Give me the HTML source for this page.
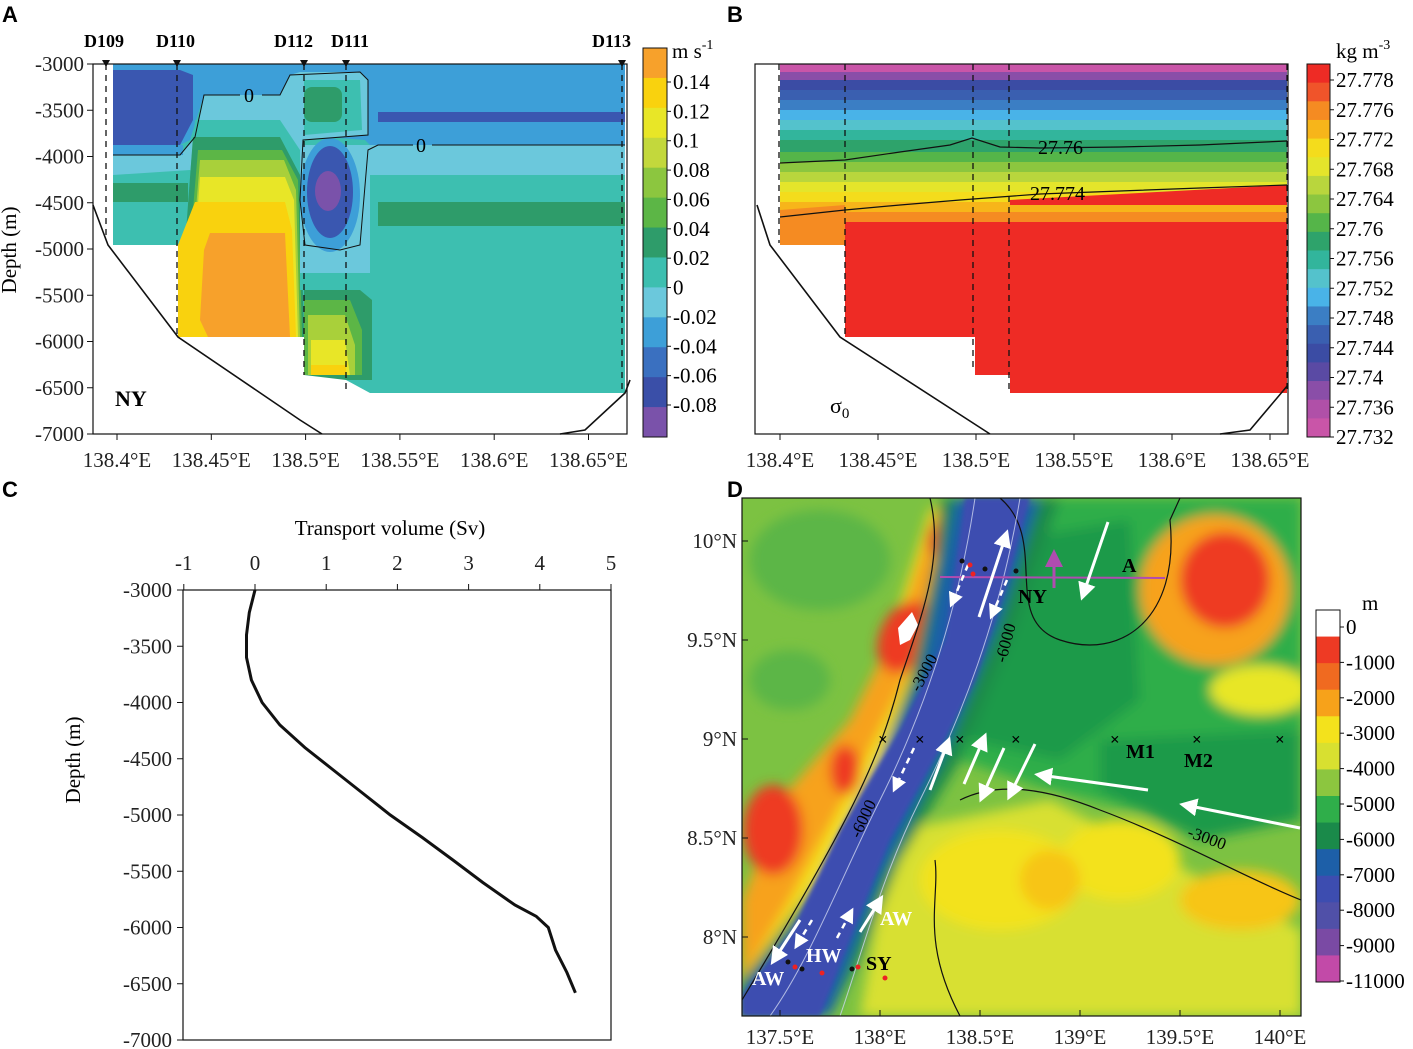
<!DOCTYPE html>
<html><head><meta charset="utf-8"><style>
body{margin:0;background:#fff;}
svg{display:block;font-family:"Liberation Serif",serif;}
svg text{font-family:"Liberation Serif",serif;}
.ax{font-size:21px;fill:#222}
.pl{font-family:"Liberation Sans",sans-serif !important;font-weight:bold;font-size:22px}
</style></head><body>
<svg id="fig" width="1413" height="1049" viewBox="0 0 1413 1049" xmlns="http://www.w3.org/2000/svg">
<defs>
<filter id="bl" x="-20%" y="-20%" width="140%" height="140%"><feGaussianBlur stdDeviation="6"/></filter>
<filter id="bl2"><feGaussianBlur stdDeviation="2"/></filter>
<clipPath id="clipD"><rect x="742" y="498" width="559" height="518"/></clipPath>
<marker id="ah" markerWidth="6" markerHeight="6" refX="4" refY="3" orient="auto"><path d="M0,0 L6,3 L0,6 Z" fill="#fff"/></marker>
<marker id="ahm" markerWidth="6" markerHeight="6" refX="4" refY="3" orient="auto"><path d="M0,0 L6,3 L0,6 Z" fill="#b04cb0"/></marker>
</defs>

<text class="pl" x="2" y="22">A</text>
<text class="pl" x="727" y="22">B</text>
<text class="pl" x="2" y="497">C</text>
<text class="pl" x="727" y="497">D</text>

<!-- PANEL A -->
<g id="panelA">
<g>
<polygon points="113,64 625,64 625,393 370,393 346,380 346,375 304,375 304,337 178,337 178,245 113,245" fill="#3dbfb0"/>
<!-- top blue -->
<polygon points="113,64 625,64 625,145 370,145 365,140 300,135 290,120 280,95 204,95 190,140 180,145 113,145" fill="#3d9fd8"/>
<polygon points="113,155 180,155 195,137 204,95 280,95 290,75 300,72 360,72 368,80 368,135 303,140 300,200 210,200 190,170 113,175" fill="#6bc8dc"/>
<rect x="113" y="145" width="70" height="10" fill="#3d9fd8"/>
<polygon points="113,70 180,70 193,75 193,120 180,145 113,145" fill="#3a57b0"/>
<polygon points="195,120 280,120 300,150 300,240 190,240 190,175" fill="#3dbfb0"/>
<polygon points="304,80 360,80 362,130 304,135" fill="#3dbfb0"/>
<rect x="304" y="87" width="38" height="35" rx="8" fill="#2e9c6a"/>
<rect x="113" y="183" width="75" height="19" fill="#2e9c6a"/>
<polygon points="193,137 280,137 300,175 304,337 190,337 185,245" fill="#2e9c6a"/>
<polygon points="198,150 282,150 298,180 302,337 192,337 190,245" fill="#5cb646"/>
<polygon points="200,160 284,160 296,190 300,337 194,337 193,245" fill="#a9d03a"/>
<polygon points="200,177 285,177 294,200 298,337 178,337 178,245 195,245" fill="#e8e627"/>
<polygon points="195,202 285,202 292,230 296,337 178,337 178,245" fill="#f9d20e"/>
<polygon points="210,233 285,233 290,337 208,337 200,320 204,250" fill="#f7a12b"/>
<!-- center blobs -->
<polygon points="300,145 370,145 370,273 300,273" fill="#6bc8dc"/>
<ellipse cx="330" cy="195" rx="30" ry="57" fill="#3d9fd8"/>
<ellipse cx="330" cy="192" rx="23" ry="46" fill="#3a57b0"/>
<ellipse cx="328" cy="191" rx="13" ry="20" fill="#7a52aa"/>
<rect x="300" y="273" width="70" height="17" fill="#3dbfb0"/>
<polygon points="304,290 360,290 372,300 372,380 346,380 304,375" fill="#2e9c6a"/>
<polygon points="304,300 350,300 362,330 362,375 304,375" fill="#5cb646"/>
<polygon points="308,315 345,315 355,345 355,375 308,375" fill="#a9d03a"/>
<polygon points="311,340 345,340 350,375 311,375" fill="#e8e627"/>
<rect x="311" y="365" width="35" height="10" fill="#f9d20e"/>
<!-- right -->
<rect x="378" y="112" width="247" height="10" fill="#3a57b0"/>
<rect x="370" y="145" width="255" height="30" fill="#6bc8dc"/>
<rect x="378" y="202" width="247" height="24" fill="#2e9c6a"/>
</g>
<g fill="none" stroke="#111" stroke-width="1.6">
<polyline points="93,205 108,245 178,337 300,420 322,434"/>
<polyline points="560,434 585,430 625,393 630,380"/>
</g>
<path d="M113,155 L180,155 195,137 204,95 240,95 M262,95 L280,95 290,75 360,72 368,80 368,135 303,140 300,200 305,245 340,250 360,245 368,150 378,145 413,145 M432,145 L625,145" fill="none" stroke="#111" stroke-width="1"/>
<g stroke="#111" stroke-width="1.3" stroke-dasharray="6,5">
<line x1="106" y1="64" x2="106" y2="240"/><line x1="177" y1="64" x2="177" y2="335"/>
<line x1="304" y1="64" x2="304" y2="375"/><line x1="346" y1="64" x2="346" y2="392"/>
<line x1="622" y1="64" x2="622" y2="390"/>
</g>
<g font-weight="bold" font-size="18">
<polygon points="102,60 110,60 106,67" fill="#111"/><polygon points="173,60 181,60 177,67" fill="#111"/>
<polygon points="300,60 308,60 304,67" fill="#111"/><polygon points="342,60 350,60 346,67" fill="#111"/>
<polygon points="618,60 626,60 622,67" fill="#111"/>
<text x="84" y="47">D109</text><text x="156" y="47">D110</text><text x="274" y="47">D112</text><text x="331" y="47">D111</text><text x="592" y="47">D113</text>
</g>
<text x="244" y="102" font-size="20">0</text>
<text x="416" y="152" font-size="20">0</text>
<text x="115" y="406" font-size="22" font-weight="bold">NY</text>
<rect x="93" y="64" width="534" height="370" fill="none" stroke="#111" stroke-width="1.2"/>
<g id="axA" class="ax"></g>
<text transform="translate(16,250) rotate(-90)" text-anchor="middle" font-size="21">Depth (m)</text>
<g id="cbA"></g>
<text x="672" y="58" font-size="21">m s<tspan dy="-9" font-size="14">-1</tspan></text>
</g>

<!-- PANEL B -->
<g id="panelB">
<g id="bBands"></g>
<g fill="#fff">
<polygon points="755,245 845,245 845,337 975,337 975,375 1010,375 1010,393 1288,393 1288,434 755,434"/>
</g>
<g fill="none" stroke="#111" stroke-width="1.2">
<polyline points="780,163 845,160 900,152 950,145 972,138 1000,147 1040,148 1120,147 1200,145 1287,141"/>
<polyline points="780,217 845,210 900,205 960,200 1000,197 1040,194 1120,191 1200,188 1287,185"/>
</g>
<text x="1038" y="154" font-size="20">27.76</text>
<text x="1030" y="200" font-size="20">27.774</text>
<g fill="none" stroke="#111" stroke-width="1.6">
<polyline points="757,205 770,245 840,337 990,434"/><polyline points="1220,434 1250,430 1288,385"/>
</g>
<g stroke="#111" stroke-width="1.3" stroke-dasharray="6,5">
<line x1="779" y1="64" x2="779" y2="243"/><line x1="845" y1="64" x2="845" y2="335"/>
<line x1="973" y1="64" x2="973" y2="370"/><line x1="1009" y1="64" x2="1009" y2="392"/>
<line x1="1287" y1="64" x2="1287" y2="392"/>
</g>
<text x="830" y="413" font-size="22">σ<tspan font-size="15" dy="5">0</tspan></text>
<rect x="755" y="64" width="533" height="370" fill="none" stroke="#111" stroke-width="1.2"/>
<g id="axB" class="ax"></g>
<g id="cbB"></g>
<text x="1336" y="58" font-size="21">kg m<tspan dy="-9" font-size="14">-3</tspan></text>
</g>

<!-- PANEL C -->
<g id="panelC">
<rect x="183" y="590" width="428" height="450" fill="none" stroke="#111" stroke-width="1.2"/>
<g id="axC" class="ax"></g>
<text x="390" y="535" text-anchor="middle" font-size="21">Transport volume (Sv)</text>
<text transform="translate(80,760) rotate(-90)" text-anchor="middle" font-size="21">Depth (m)</text>
<path id="profile" fill="none" stroke="#111" stroke-width="3"/>
</g>

<!-- PANEL D -->
<g id="panelD">
<g clip-path="url(#clipD)">
<rect x="742" y="498" width="559" height="518" fill="#7cc242"/>
<g filter="url(#bl)">
<ellipse cx="820" cy="560" rx="70" ry="50" fill="#5cb646"/>
<ellipse cx="790" cy="680" rx="40" ry="30" fill="#5cb646"/>
<polygon points="1000,498 1301,498 1301,800 1180,820 1050,790 960,760 930,700" fill="#2fae4a"/>
<polygon points="1010,540 1130,520 1140,700 1060,760 970,740" fill="#1f9a48"/>
<polygon points="1100,740 1301,730 1301,820 1200,840 1100,790" fill="#1f9a48"/>
<polygon points="900,830 1050,800 1301,930 1301,1016 860,1016 880,900" fill="#d8e030"/>
<ellipse cx="1000" cy="880" rx="80" ry="50" fill="#f3e21c"/>
<ellipse cx="1120" cy="860" rx="60" ry="40" fill="#f3e21c"/>
<ellipse cx="1240" cy="900" rx="60" ry="30" fill="#f7c514"/>
<ellipse cx="1050" cy="880" rx="30" ry="30" fill="#f7c514"/>
<ellipse cx="1215" cy="590" rx="75" ry="75" fill="#f7a21a"/>
<ellipse cx="1260" cy="690" rx="50" ry="25" fill="#e8e627"/>
<polygon points="742,1016 742,940 860,730 930,510 960,498 945,560 920,700 870,830 780,1000" fill="#f3e21c"/>
<polygon points="742,980 742,900 780,800 850,720 900,620 935,510 950,510 920,650 860,770 790,900" fill="#f7a21a"/>
<ellipse cx="773" cy="830" rx="30" ry="45" fill="#ee3a24"/>
<ellipse cx="845" cy="770" rx="15" ry="25" fill="#ee3a24"/>
<ellipse cx="905" cy="637" rx="25" ry="38" fill="#ee3a24" transform="rotate(25 905 637)"/>
<ellipse cx="935" cy="540" rx="8" ry="15" fill="#ee3a24"/>
<ellipse cx="1225" cy="580" rx="45" ry="48" fill="#ee3a24"/>
<polygon points="940,498 1060,498 1010,640 960,760 900,860 860,960 830,1016 742,1016 742,980 820,880 880,760 910,680 935,560" fill="#1a8a4a"/>
<polygon points="955,498 1040,498 1000,620 950,740 880,880 830,1016 742,1016 742,990 800,920 860,800 920,680" fill="#1d5fa8"/>
</g>
<polygon points="965,498 1030,498 1005,590 975,680 945,740 890,840 850,940 820,1016 742,1016 742,995 790,935 840,830 900,730 945,640" fill="#3d4db0" filter="url(#bl2)"/>
<path d="M898,628 L912,612 918,625 910,640 900,645 Z" fill="#fff"/>
<g fill="none" stroke="#111" stroke-width="1.2">
<path d="M930,498 C945,560 920,620 900,680 C880,760 850,820 742,1000"/>
<path d="M1000,498 C1050,540 1000,620 1060,640 C1120,660 1180,620 1170,520 L1180,498"/>
<path d="M960,800 C1000,780 1050,790 1100,810 C1180,840 1250,880 1301,900"/>
<path d="M935,860 C940,900 920,940 960,1016"/>
</g>
<g fill="none" stroke="#cfd6f0" stroke-width="1" opacity="0.8">
<path d="M975,498 C960,600 930,700 880,800 C840,880 810,960 770,1016"/>
<path d="M1020,498 C1000,620 960,720 920,800 C880,880 860,960 840,1016"/>
</g>
</g>
<text x="896" y="690" font-size="17" transform="rotate(-62 910 672)">-3000</text>
<text x="980" y="660" font-size="17" transform="rotate(-75 995 645)">-6000</text>
<text x="838" y="835" font-size="17" transform="rotate(-65 852 820)">-6000</text>
<text x="1185" y="845" font-size="17" transform="rotate(20 1210 845)">-3000</text>
<line x1="940" y1="577" x2="1165" y2="578" stroke="#b04cb0" stroke-width="2"/>
<line x1="1054" y1="588" x2="1054" y2="555" stroke="#b04cb0" stroke-width="3" marker-end="url(#ahm)"/>
<g stroke="#fff" stroke-width="3" marker-end="url(#ah)">
<line x1="1108" y1="522" x2="1083" y2="595"/>
<line x1="979" y1="617" x2="1006" y2="535"/>
<line x1="1035" y1="744" x2="1010" y2="795"/>
<line x1="1004" y1="748" x2="982" y2="797"/>
<line x1="964" y1="784" x2="984" y2="738"/>
<line x1="930" y1="790" x2="948" y2="742"/>
<line x1="1148" y1="790" x2="1040" y2="775"/>
<line x1="1300" y1="828" x2="1185" y2="805"/>
<line x1="800" y1="920" x2="774" y2="960"/>
<line x1="860" y1="932" x2="880" y2="900"/>
</g>
<g stroke="#fff" stroke-width="2.5" stroke-dasharray="6,5" marker-end="url(#ah)">
<line x1="968" y1="565" x2="952" y2="603"/>
<line x1="1007" y1="580" x2="992" y2="615"/>
<line x1="914" y1="748" x2="895" y2="788"/>
<line x1="837" y1="938" x2="851" y2="912"/>
<line x1="812" y1="920" x2="797" y2="945"/>
</g>
<g>
<circle cx="962" cy="561" r="2.5" fill="#111"/><circle cx="970" cy="565" r="2.5" fill="#e22"/><circle cx="973" cy="574" r="2.5" fill="#e22"/><circle cx="985" cy="569" r="2.5" fill="#111"/><circle cx="1016" cy="571" r="2.5" fill="#111"/>
<circle cx="788" cy="962" r="2.5" fill="#111"/><circle cx="795" cy="967" r="2.5" fill="#e22"/><circle cx="802" cy="969" r="2.5" fill="#111"/><circle cx="822" cy="973" r="2.5" fill="#e22"/><circle cx="852" cy="969" r="2.5" fill="#111"/><circle cx="858" cy="967" r="2.5" fill="#e22"/><circle cx="885" cy="978" r="2.5" fill="#e22"/>
</g>
<g font-size="17" font-weight="bold"><text x="878" y="745">×</text><text x="915" y="745">×</text><text x="955" y="745">×</text><text x="1011" y="745">×</text><text x="1110" y="745">×</text><text x="1192" y="745">×</text><text x="1275" y="745">×</text></g>
<g font-weight="bold" font-size="20">
<text x="1018" y="603">NY</text><text x="1122" y="572">A</text><text x="1126" y="758">M1</text><text x="1184" y="767">M2</text>
<text x="866" y="970">SY</text>
<text x="880" y="925" fill="#fff">AW</text><text x="806" y="962" fill="#fff">HW</text><text x="752" y="985" fill="#fff">AW</text>
</g>
<rect x="742" y="498" width="559" height="518" fill="none" stroke="#111" stroke-width="1.2"/>
<g id="axD" class="ax"></g>
<g id="cbD"></g>
<text x="1362" y="610" font-size="21">m</text>
</g>
</svg>
<script>
var depthC = [-3000,-3200,-3400,-3600,-3800,-4000,-4200,-4400,-4600,-4800,-5000,-5200,-5400,-5600,-5800,-5900,-6000,-6200,-6400,-6580];
var transportC = [0.0,-0.08,-0.12,-0.12,-0.05,0.1,0.35,0.7,1.1,1.5,1.9,2.35,2.78,3.2,3.65,3.95,4.12,4.22,4.38,4.5];
var xTicksC = [-1,0,1,2,3,4,5];
var depthTicks = [-3000,-3500,-4000,-4500,-5000,-5500,-6000,-6500,-7000];
var lonTicks = [138.4,138.45,138.5,138.55,138.6,138.65];
var lonLabels = ["138.4°E","138.45°E","138.5°E","138.55°E","138.6°E","138.65°E"];
var cbALabels = ["0.14","0.12","0.1","0.08","0.06","0.04","0.02","0","-0.02","-0.04","-0.06","-0.08"];
var cbAColors = ["#f7a12b","#f9d20e","#e8e627","#c3d83c","#8cc63f","#5cb646","#2e9c6a","#3dbfb0","#6bc8dc","#3d9fd8","#3a70c0","#3a4fa8","#7a52aa"];
var cbBLabels = ["27.778","27.776","27.772","27.768","27.764","27.76","27.756","27.752","27.748","27.744","27.74","27.736","27.732"];
var cbBColors = ["#ee2b25","#f0542a","#f58b22","#f7b51a","#f4dc1c","#e4e52b","#b9d63d","#8cc63f","#55b549","#2ea36b","#32b59c","#54c2cc","#49b3e8","#3b7ec4","#3a5fb0","#3b4ca4","#5a4aa4","#8a4ea8","#b050a8","#c955a8"];
var cbDLabels = ["0","-1000","-2000","-3000","-4000","-5000","-6000","-7000","-8000","-9000","-11000"];
var cbDColors = ["#ffffff","#ee3a24","#f06a20","#f7a21a","#f3e21c","#d8e030","#8cc63f","#2fae4a","#1a8a4a","#1d5fa8","#3d4db0","#5050a8","#7a4aa4","#c24aa8"];
var latLabels = ["10°N","9.5°N","9°N","8.5°N","8°N"];
var latVals = [10,9.5,9,8.5,8];
var lonDLabels = ["137.5°E","138°E","138.5°E","139°E","139.5°E","140°E"];
var lonDVals = [137.5,138,138.5,139,139.5,140];

var NS="http://www.w3.org/2000/svg";
function mk(tag,attrs,parent,txt){var e=document.createElementNS(NS,tag);for(var k in attrs)e.setAttribute(k,attrs[k]);if(txt!==undefined)e.textContent=txt;parent.appendChild(e);return e;}

function yDepth(top,bot){return function(d){return top+(-3000-d)/4000*(bot-top);};}
function sectionAxes(g,x0,step,left,yl){
  var y=yDepth(64,434),x=function(v){return x0+(v-138.4)/0.05*step;};
  if(yl){depthTicks.forEach(function(d){
    mk('line',{x1:left-6,x2:left,y1:y(d),y2:y(d),stroke:'#111'},g);
    var t=mk('text',{x:left-9,y:y(d)+7,'text-anchor':'end'},g,String(d));
    
    
  });}
  lonTicks.forEach(function(v,i){
    mk('line',{x1:x(v),x2:x(v),y1:434,y2:440,stroke:'#111'},g);
    var t=mk('text',{x:x(v),y:467,'text-anchor':'middle'},g,lonLabels[i]);
    
    
  });
}
sectionAxes(document.getElementById('axA'),117,94.3,93,true);
sectionAxes(document.getElementById('axB'),780,98,755,false);

function colorbar(g,x,top,bot,w,colors,labels,ly0,ly1,fs){
  var h=(bot-top)/colors.length;
  colors.forEach(function(c,i){
    var r=mk('rect',{x:x,y:top+i*h,width:w,height:h+0.5,fill:c},g);
    
    
  });
  mk('rect',{x:x,y:top,width:w,height:bot-top,fill:'none',stroke:'#111','stroke-width':1},g);
  labels.forEach(function(s,i){
    var yy=ly0+i*(ly1-ly0)/(labels.length-1);
    mk('line',{x1:x+w,x2:x+w+4,y1:yy,y2:yy,stroke:'#111'},g);
    var t=mk('text',{x:x+w+6,y:yy+7,'font-size':fs},g,s);
    
    
  });
}
colorbar(document.getElementById('cbA'),643,48,437,24,cbAColors,cbALabels,82,405,21);
colorbar(document.getElementById('cbB'),1307,64,437,23,cbBColors,cbBLabels,80,437,21);
colorbar(document.getElementById('cbD'),1316,610,982,24,cbDColors,cbDLabels,627,981,21);

(function(){
  var g=document.getElementById('bBands');
  var bands=[[64,72,"#c955a8"],[72,80,"#8a4ea8"],[80,90,"#3b4ca4"],[90,100,"#3a5fb0"],[100,110,"#3b7ec4"],[110,120,"#49b3e8"],[120,130,"#54c2cc"],[130,140,"#32b59c"],[140,152,"#2ea36b"],[152,162,"#55b549"],[162,172,"#8cc63f"],[172,182,"#b9d63d"],[182,192,"#e4e52b"],[192,202,"#f4dc1c"],[202,212,"#f7b51a"],[212,222,"#f58b22"],[222,400,"#ee2b25"]];
  bands.forEach(function(b){
    var r=mk('rect',{x:780,y:b[0],width:507,height:b[1]-b[0]+1,fill:b[2]},g);
    
    
  });
  mk('polygon',{points:"780,210 845,205 845,245 780,245",fill:"#f58b22"},g);
  mk('polygon',{points:"1010,200 1287,185 1287,205 1010,205",fill:"#ee2b25"},g);
})();

(function(){
  var g=document.getElementById('axC');
  var x=function(v){return 255+v*71.2;}, y=function(d){return 590+(-3000-d)/4000*450;};
  xTicksC.forEach(function(v){
    mk('line',{x1:x(v),x2:x(v),y1:584,y2:590,stroke:'#111'},g);
    var t=mk('text',{x:x(v),y:570,'text-anchor':'middle'},g,String(v));
    
    
  });
  depthTicks.forEach(function(d){
    mk('line',{x1:177,x2:183,y1:y(d),y2:y(d),stroke:'#111'},g);
    var t=mk('text',{x:172,y:y(d)+7,'text-anchor':'end'},g,String(d));
    
    
  });
  var d=depthC.map(function(dd,i){return (i?'L':'M')+x(transportC[i]).toFixed(1)+','+y(dd).toFixed(1);}).join(' ');
  document.getElementById('profile').setAttribute('d',d);
})();

(function(){
  var g=document.getElementById('axD');
  var ly=function(v){return 541+(10-v)*198;}, lx=function(v){return 780+(v-137.5)/0.5*100;};
  latVals.forEach(function(v,i){
    mk('line',{x1:742,x2:748,y1:ly(v),y2:ly(v),stroke:'#111'},g);
    var t=mk('text',{x:737,y:ly(v)+7,'text-anchor':'end'},g,latLabels[i]);
    
    
  });
  lonDVals.forEach(function(v,i){
    mk('line',{x1:lx(v),x2:lx(v),y1:1010,y2:1016,stroke:'#111'},g);
    var t=mk('text',{x:lx(v),y:1044,'text-anchor':'middle'},g,lonDLabels[i]);
    
    
  });
})();
</script>
</body></html>
